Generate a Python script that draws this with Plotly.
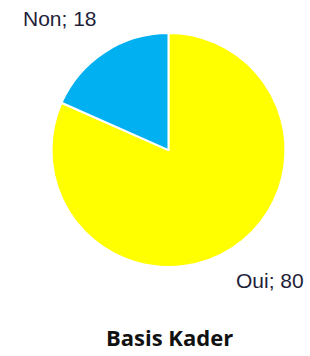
import plotly.graph_objects as go

labels = ["Oui", "Non"]
values = [80, 18]
colors = ["#FFFF00", "#00B0F0"]
title_text = "Basis Kader"

fig = go.Figure()
fig.add_trace(go.Pie(
    labels=labels,
    values=values,
    sort=False,
    direction="clockwise",
    rotation=0,
    marker=dict(colors=colors, line=dict(color="white", width=2)),
    textinfo="none",
    hoverinfo="label+value",
    showlegend=False,
    domain=dict(x=[0.166, 0.921], y=[0.25, 0.907]),
))

label_pos = {"Non": (0.194, 0.947), "Oui": (0.871, 0.211)}
for lab, val in zip(labels, values):
    x, y = label_pos[lab]
    fig.add_annotation(
        x=x, y=y, xref="paper", yref="paper",
        text=f"{lab}; {val}", showarrow=False,
        xanchor="center", yanchor="middle",
        font=dict(family="Liberation Sans, Arial", size=21, color="#1f1f3a"),
    )

fig.add_annotation(
    x=0.548, y=0.053, xref="paper", yref="paper",
    text=f"<b>{title_text}</b>", showarrow=False,
    xanchor="center", yanchor="middle",
    font=dict(family="Open Sans", size=22, color="#111111"),
)

fig.update_layout(
    width=310, height=356,
    margin=dict(l=0, r=0, t=0, b=0),
    paper_bgcolor="white", plot_bgcolor="white",
)

fig.write_html(
    "out.html",
    config={"displayModeBar": False},
    post_script="document.body.style.margin='0';document.body.style.overflow='hidden';",
)
